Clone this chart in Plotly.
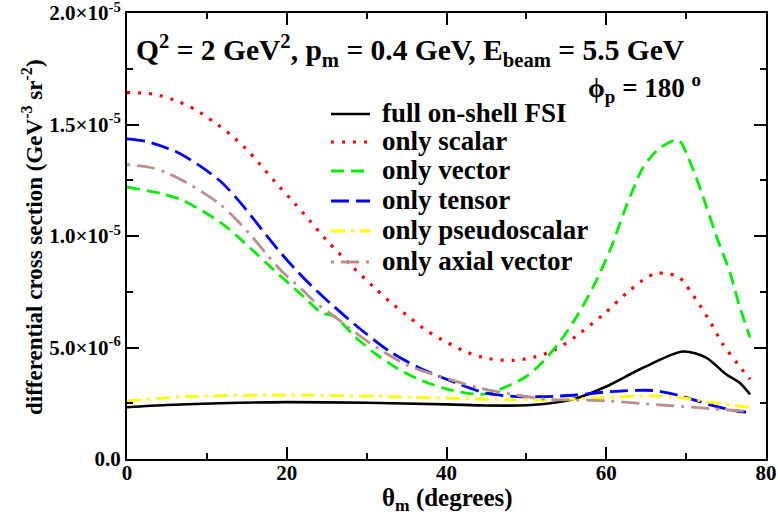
import plotly.graph_objects as go

# ---- data (theta_m in degrees, cross section in units of 1e-6 GeV^-3 sr^-2) ----
theta_full = [0, 5, 11.6, 20, 30, 40, 45, 49, 52.5, 56.4, 60, 64.6, 69.6, 72.5, 75, 76.7, 78]
full_fsi = [2.32, 2.42, 2.5, 2.55, 2.52, 2.45, 2.4, 2.4, 2.48, 2.74, 3.25, 4.09, 4.82, 4.55, 3.8, 3.42, 2.9]

theta_scalar = [0, 3.2, 5.9, 8.5, 10.9, 13.2, 15.3, 17.2, 19.1, 21.0, 22.9, 25, 28, 30.8, 33.0, 35.3,
                37.5, 40.0, 42.6, 45.3, 48.2, 51.0, 53.6, 56.2, 59.6, 62.7, 65.0, 66.3, 67.6,
                69.0, 70.0, 71.6, 73.1, 74.5, 77.1, 78]
only_scalar = [16.43, 16.37, 16.1, 15.68, 15.11, 14.48, 13.76, 12.98, 12.2, 11.46, 10.68, 9.8, 8.7,
               7.74, 7.02, 6.37, 5.76, 5.24, 4.78, 4.5, 4.42, 4.57, 4.9, 5.5, 6.47, 7.49, 8.12,
               8.34, 8.3, 8.19, 7.79, 6.96, 6.1, 5.2, 3.97, 3.58]

theta_vector = [0, 4.3, 7.0, 9.3, 11.9, 13.9, 16.1, 18.1, 20.2, 22.3, 24.4, 26.0, 28.5, 31.0, 33.8,
                36.7, 39.6, 42.5, 45.0, 47.5, 50.0, 52.1, 54.2, 56.3, 58.4, 60.5, 62.5, 64.6,
                66.5, 69.0, 70.7, 72.1, 73.8, 75.5, 76.7, 78]
only_vector = [12.19, 11.9, 11.6, 11.15, 10.56, 9.96, 9.24, 8.57, 7.89, 7.22, 6.55, 6.39, 5.5, 4.75,
               4.07, 3.55, 3.18, 2.95, 2.92, 3.25, 3.7, 4.37, 5.27, 6.39, 7.74, 9.39, 11.33, 13.06,
               13.88, 14.3, 13.13, 11.78, 9.99, 8.34, 6.84, 5.45]

theta_tensor = [0, 2.3, 6.0, 8.9, 11.9, 14.4, 16.4, 18.9, 21.2, 23.7, 25.4, 29.2, 32.9, 36.7, 41.3,
                45.0, 48.8, 52.5, 56.3, 60.5, 65.9, 69.6, 73.0, 76.7, 77.5]
only_tensor = [14.36, 14.25, 13.8, 13.2, 12.39, 11.41, 10.51, 9.39, 8.46, 7.56, 7.0, 5.83, 4.82, 4.07,
               3.4, 2.95, 2.8, 2.8, 2.87, 3.02, 3.07, 2.8, 2.43, 2.13, 2.1]

theta_pseudo = [0, 7.5, 20.0, 32.5, 45.0, 53.4, 60.5, 65.9, 70.0, 73.8, 78]
only_pseudoscalar = [2.6, 2.8, 2.87, 2.8, 2.68, 2.65, 2.77, 2.83, 2.72, 2.5, 2.32]

theta_axial = [0, 3.1, 5.2, 8.1, 11.4, 13.5, 15.6, 17.7, 19.4, 21.7, 23.9, 25.4, 30.4, 35.0, 39.2,
               44.2, 48.8, 52.5, 56, 60.5, 65.0, 69.6, 73.4, 78]
only_axial = [13.2, 13.06, 12.8, 12.26, 11.49, 10.81, 9.99, 9.09, 8.41, 7.67, 6.92, 6.54, 5.2, 4.22,
              3.7, 3.18, 2.87, 2.68, 2.65, 2.6, 2.47, 2.35, 2.25, 2.13]

scale = 1e-6
y_ticks = [0, 5e-6, 1e-5, 1.5e-5, 2e-5]
y_ticktext = ["0.0", "5.0×10<sup>-6</sup>", "1.0×10<sup>-5</sup>", "1.5×10<sup>-5</sup>", "2.0×10<sup>-5</sup>"]
x_ticks = [0, 20, 40, 60, 80]

series_names = ["full on-shell FSI", "only scalar", "only vector", "only tensor",
                "only pseudoscalar", "only axial vector"]
series_x = [theta_full, theta_scalar, theta_vector, theta_tensor, theta_pseudo, theta_axial]
series_y = [full_fsi, only_scalar, only_vector, only_tensor, only_pseudoscalar, only_axial]
styles = [
    ("black", "solid", 2.6),
    ("#ff0000", "3px,8px", 3.2),
    ("#00ee00", "13px,7px", 2.8),
    ("#0000ff", "18px,7px", 2.8),
    ("#ffff00", "14px,6px,3px,6px", 2.8),
    ("#bc8f8f", "3px,7px,18px,7px", 2.8),
]

FONT = "Liberation Serif"

# plot area in pixels
W, H = 778, 516
L, R, T, B = 127, 12, 13, 57
PW, PH = W - L - R, H - T - B

def px_x(px):
    return (px - L) / PW

def px_y(py):
    return (H - B - py) / PH

fig = go.Figure()
for name, xs, ys, (color, dash, w) in zip(series_names, series_x, series_y, styles):
    fig.add_trace(go.Scatter(
        x=xs, y=[v * scale for v in ys], mode="lines", name=name, showlegend=False,
        line=dict(color=color, dash=dash, width=w, shape="spline", smoothing=0.8),
    ))

axis_common = dict(
    showgrid=False, zeroline=False, showline=True, linecolor="black", linewidth=2,
    mirror="ticks", ticks="inside", ticklen=12, tickwidth=1.5, tickcolor="black",
    automargin=False, ticklabeloverflow="allow",
    tickfont=dict(family=FONT, size=21, color="black", weight="bold"),
)

fig.update_xaxes(
    range=[0, 80], tickvals=x_ticks, ticklabelstandoff=-6,
    minor=dict(ticks="inside", ticklen=6, dtick=10, tickcolor="black", tickwidth=1.5),
    **axis_common,
)
fig.update_yaxes(
    range=[0, 2e-5], tickvals=y_ticks, ticktext=y_ticktext,
    minor=dict(ticks="inside", ticklen=6, dtick=2.5e-6, tickcolor="black", tickwidth=1.5),
    **axis_common,
)

# axis titles
fig.add_annotation(
    x=px_x(447), y=px_y(500), xref="paper", yref="paper", xanchor="center", yanchor="middle",
    text="<b>θ<sub>m</sub> (degrees)</b>", showarrow=False,
    font=dict(family=FONT, size=25, color="black"),
)
fig.add_annotation(
    x=px_x(32), y=px_y(237), xref="paper", yref="paper", xanchor="center", yanchor="middle",
    text="<b>differential cross section (GeV<sup>-3</sup> sr<sup>-2</sup>)</b>", showarrow=False,
    textangle=-90, font=dict(family=FONT, size=23, color="black"),
)

fig.add_annotation(
    x=px_x(134), y=px_y(50), xref="paper", yref="paper", xanchor="left", yanchor="middle",
    text="<b>Q<sup>2</sup> = 2 GeV<sup>2</sup>, p<sub>m</sub> = 0.4 GeV, E<sub>beam</sub> = 5.5 GeV</b>",
    showarrow=False, font=dict(family=FONT, size=29.5, color="black"),
)
fig.add_annotation(
    x=px_x(586), y=px_y(88), xref="paper", yref="paper", xanchor="left", yanchor="middle",
    text="<b>ϕ<sub>p</sub> = 180 <sup>o</sup></b>",
    showarrow=False, font=dict(family=FONT, size=27, color="black"),
)

# legend drawn as key lines + labels
row_y = [114, 142, 171, 201, 231, 262]
for name, (color, dash, w), ry in zip(series_names, styles, row_y):
    fig.add_shape(type="line", xref="paper", yref="paper",
                  x0=px_x(331), x1=px_x(370), y0=px_y(ry), y1=px_y(ry),
                  line=dict(color=color, dash=dash, width=w))
    fig.add_annotation(
        x=px_x(380), y=px_y(ry - 1), xref="paper", yref="paper", xanchor="left", yanchor="middle",
        text="<b>" + name + "</b>", showarrow=False,
        font=dict(family=FONT, size=27, color="black"),
    )

fig.update_layout(
    width=W, height=H,
    margin=dict(l=L, r=R, t=T, b=B),
    paper_bgcolor="white", plot_bgcolor="white",
    font=dict(family=FONT, color="black"),
    showlegend=False,
)

fig.write_html("out.html", config={"displayModeBar": False},
               post_script="document.body.style.margin='0';")
